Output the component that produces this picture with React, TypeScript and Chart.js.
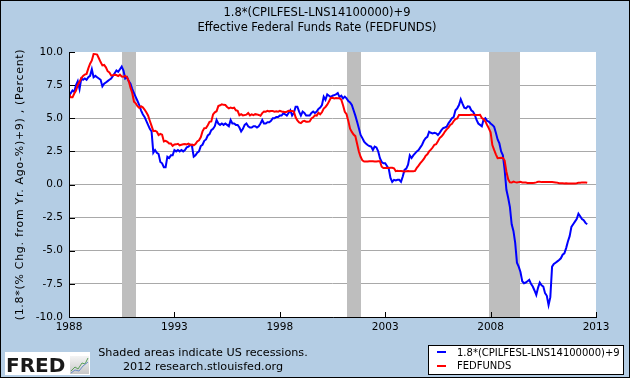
import React, { useEffect, useRef } from 'react';
import { Chart, registerables } from 'chart.js';

Chart.register(...registerables);

// ---- data (monthly, starting January 1988) ----
const START_YEAR = 1988;

const fedFunds = [
  6.83, 6.58, 6.58, 6.87, 7.09, 7.51, 7.75, 8.01, 8.19, 8.30, 8.35, 8.76,
  9.12, 9.36, 9.85, 9.84, 9.81, 9.53, 9.24, 8.99, 9.02, 8.84, 8.55, 8.45,
  8.23, 8.24, 8.28, 8.26, 8.18, 8.29, 8.15, 8.13, 8.20, 8.11, 7.81, 7.31,
  6.91, 6.25, 6.12, 5.91, 5.78, 5.90, 5.82, 5.66, 5.45, 5.21, 4.81, 4.43,
  4.03, 4.06, 3.98, 3.73, 3.82, 3.76, 3.25, 3.30, 3.22, 3.10, 3.09, 2.92,
  3.02, 3.03, 3.07, 2.96, 3.00, 3.04, 3.06, 3.03, 3.09, 2.99, 3.02, 2.96,
  3.05, 3.25, 3.34, 3.56, 4.01, 4.25, 4.26, 4.47, 4.73, 4.76, 5.29, 5.45,
  5.53, 5.92, 5.98, 6.05, 6.01, 6.00, 5.85, 5.74, 5.80, 5.76, 5.80, 5.60,
  5.56, 5.22, 5.31, 5.22, 5.24, 5.27, 5.40, 5.22, 5.30, 5.24, 5.31, 5.29,
  5.25, 5.19, 5.39, 5.51, 5.50, 5.56, 5.52, 5.54, 5.54, 5.50, 5.52, 5.50,
  5.56, 5.51, 5.49, 5.45, 5.49, 5.56, 5.54, 5.55, 5.51, 5.07, 4.83, 4.68,
  4.63, 4.76, 4.81, 4.74, 4.74, 4.76, 4.99, 5.07, 5.22, 5.20, 5.42, 5.30,
  5.45, 5.73, 5.85, 6.02, 6.27, 6.53, 6.54, 6.50, 6.52, 6.51, 6.51, 6.40,
  5.98, 5.49, 5.31, 4.80, 4.21, 3.97, 3.77, 3.65, 3.07, 2.49, 2.09, 1.82,
  1.73, 1.74, 1.73, 1.75, 1.75, 1.75, 1.73, 1.74, 1.75, 1.75, 1.34, 1.24,
  1.24, 1.26, 1.25, 1.26, 1.26, 1.22, 1.01, 1.03, 1.01, 1.01, 1.00, 0.98,
  1.00, 1.01, 1.00, 1.00, 1.00, 1.03, 1.26, 1.43, 1.61, 1.76, 1.93, 2.16,
  2.28, 2.50, 2.63, 2.79, 3.00, 3.04, 3.26, 3.50, 3.62, 3.78, 4.00, 4.16,
  4.29, 4.49, 4.59, 4.79, 4.94, 4.99, 5.24, 5.25, 5.25, 5.25, 5.25, 5.24,
  5.25, 5.26, 5.26, 5.25, 5.25, 5.25, 5.26, 5.02, 4.94, 4.76, 4.49, 4.24,
  3.94, 2.98, 2.61, 2.28, 1.98, 2.00, 2.01, 2.00, 1.81, 0.97, 0.39, 0.16,
  0.15, 0.22, 0.18, 0.15, 0.18, 0.21, 0.16, 0.16, 0.15, 0.12, 0.12, 0.12,
  0.11, 0.13, 0.16, 0.20, 0.20, 0.18, 0.18, 0.19, 0.19, 0.19, 0.19, 0.18,
  0.17, 0.16, 0.14, 0.10, 0.09, 0.09, 0.07, 0.10, 0.08, 0.07, 0.08, 0.07,
  0.08, 0.10, 0.13, 0.14, 0.16, 0.16, 0.16, 0.13,
];

const cpiGap = [
  6.7, 6.9, 7.1, 7.0, 7.5, 7.8, 7.2, 8.0, 7.9, 8.0, 7.9, 8.1,
  8.2, 8.7, 8.1, 8.2, 8.1, 8.0, 7.9, 7.4, 7.6, 7.7, 7.8, 7.9,
  8.0, 8.2, 8.4, 8.6, 8.5, 8.7, 8.9, 8.6, 8.0, 8.1, 7.8, 7.6,
  7.2, 6.9, 6.6, 6.3, 6.0, 5.6, 5.3, 5.1, 4.8, 4.5, 4.2, 4.0,
  2.4, 2.6, 2.4, 2.3, 1.7, 1.6, 1.3, 1.3, 2.1, 2.0, 2.2, 2.2,
  2.6, 2.5, 2.6, 2.5, 2.6, 2.5, 2.6, 2.8, 2.85, 3.0, 2.9, 2.1,
  2.2, 2.4, 2.5, 2.9, 3.0, 3.3, 3.4, 3.7, 3.8, 4.1, 4.2, 4.4,
  4.87, 4.6, 4.5, 4.6, 4.5, 4.6, 4.5, 4.4, 4.87, 4.6, 4.6, 4.5,
  4.5, 4.3, 4.0, 4.2, 4.5, 4.6, 4.4, 4.3, 4.3, 4.4, 4.4, 4.3,
  4.4, 4.6, 4.87, 4.6, 4.6, 4.7, 4.7, 4.8, 5.0, 5.0, 5.1, 5.1,
  5.2, 5.2, 5.37, 5.3, 5.2, 5.4, 5.6, 5.2, 5.4, 5.87, 5.87, 5.5,
  5.2, 5.5, 5.4, 5.2, 5.2, 5.2, 5.4, 5.5, 5.4, 5.5, 5.7, 5.8,
  6.0, 6.63, 6.4, 6.8, 6.7, 6.6, 6.7, 6.75, 6.8, 6.9, 6.6, 6.7,
  6.5, 6.63, 6.5, 6.3, 6.2, 6.0, 5.6, 5.2, 4.74, 4.25, 3.74, 3.5,
  3.24, 3.1, 2.98, 2.9, 2.86, 2.6, 2.86, 2.8, 2.5, 1.98, 1.7, 1.6,
  1.6, 1.4, 1.2, 0.5, 0.2, 0.35, 0.3, 0.35, 0.35, 0.2, 0.6, 1.1,
  1.2, 1.5, 2.2, 2.0, 2.2, 2.35, 2.5, 2.6, 2.8, 3.0, 3.3, 3.5,
  3.6, 3.98, 3.9, 3.86, 3.9, 3.86, 3.74, 3.9, 4.1, 4.25, 4.3, 4.36,
  4.62, 4.8, 5.0, 5.1, 5.6, 5.75, 6.0, 6.43, 6.1, 5.8, 5.75, 5.9,
  5.87, 5.6, 5.5, 5.25, 4.87, 4.6, 4.5, 4.4, 4.9, 5.0, 4.8, 4.74,
  4.6, 4.5, 4.36, 3.9, 3.4, 3.1, 2.5, 2.2, 1.1, -0.4, -1.0, -1.7,
  -3.0, -3.5, -4.4, -5.9, -6.2, -6.6, -7.3, -7.45, -7.4, -7.3, -7.2, -7.5,
  -7.7, -8.0, -8.34, -7.8, -7.4, -7.6, -7.7, -8.2, -8.4, -9.1, -8.5, -6.2,
  -6.0, -5.9, -5.8, -5.7, -5.57, -5.3, -5.2, -4.8, -4.3, -3.9, -3.2, -3.0,
  -2.8, -2.6, -2.2, -2.4, -2.6, -2.7, -2.9, -3.0,
];

const recessionStarts = ['1990-07', '2001-03', '2007-12'];
const recessionEnds = ['1991-03', '2001-11', '2009-06'];

const xMin = 1988;
const xMax = 2013;
const xStep = 5;
const yMin = -10;
const yMax = 10;
const yStep = 2.5;

const titleLines = ['1.8*(CPILFESL-LNS14100000)+9', 'Effective Federal Funds Rate (FEDFUNDS)'];
const yAxisTitle = '(1.8*(% Chg. from Yr. Ago-%)+9) , (Percent)';
const seriesNames = ['1.8*(CPILFESL-LNS14100000)+9', 'FEDFUNDS'];
const footerLines = ['Shaded areas indicate US recessions.', '2012 research.stlouisfed.org'];

// ---- styles ----
const BG = '#B4CDE4';
const BLUE = '#0000FF';
const RED = '#FF0000';
const FONT = 'DejaVu Sans';

const monthToYear = (s: string) => {
  const [y, m] = s.split('-').map(Number);
  return y + (m - 1) / 12;
};

const toPoints = (arr: number[]) => arr.map((v, i) => ({ x: START_YEAR + i / 12, y: v }));

const decorPlugin = {
  id: 'decor',
  beforeDraw(chart: any) {
    const { ctx, chartArea: a } = chart;
    ctx.save();
    ctx.fillStyle = BG;
    ctx.fillRect(0, 0, chart.width, chart.height);
    ctx.fillStyle = '#FFFFFF';
    ctx.fillRect(a.left, a.top, a.right - a.left, a.bottom - a.top);
    ctx.restore();
  },
  beforeDatasetsDraw(chart: any) {
    const { ctx, chartArea: a, scales } = chart;
    const xs = scales.x;
    ctx.save();
    ctx.fillStyle = '#BEBEBE';
    recessionStarts.forEach((s, i) => {
      const x0 = Math.round(xs.getPixelForValue(monthToYear(s)));
      const x1 = Math.round(xs.getPixelForValue(monthToYear(recessionEnds[i])));
      ctx.fillRect(x0, a.top, x1 - x0, a.bottom - a.top);
    });
    ctx.restore();
  },
  afterDraw(chart: any) {
    const { ctx, chartArea: a, scales } = chart;
    const xs = scales.x;
    const ys = scales.y;
    ctx.save();
    // axes
    ctx.strokeStyle = '#000';
    ctx.lineWidth = 1;
    ctx.beginPath();
    ctx.moveTo(a.left + 0.5, a.top);
    ctx.lineTo(a.left + 0.5, a.bottom + 0.5);
    ctx.lineTo(a.right + 1, a.bottom + 0.5);
    ctx.stroke();
    // inward ticks
    ctx.beginPath();
    ys.ticks.forEach((t: any) => {
      const y = Math.round(ys.getPixelForValue(t.value)) + 0.5;
      ctx.moveTo(a.left, y);
      ctx.lineTo(a.left + 6, y);
    });
    xs.ticks.forEach((t: any) => {
      const x = Math.round(xs.getPixelForValue(t.value)) + 0.5;
      ctx.moveTo(x, a.bottom);
      ctx.lineTo(x, a.bottom - 5);
    });
    ctx.stroke();

    // title
    ctx.fillStyle = '#000';
    ctx.textAlign = 'center';
    ctx.textBaseline = 'alphabetic';
    ctx.font = `11.5px "${FONT}"`;
    ctx.fillText(titleLines[0], 317, 16);
    ctx.fillText(titleLines[1], 317, 31);

    // y axis title
    ctx.save();
    ctx.translate(20, (a.top + a.bottom) / 2);
    ctx.rotate(-Math.PI / 2);
    ctx.textBaseline = 'middle';
    ctx.font = `11px "${FONT}"`;
    (ctx as any).letterSpacing = '0.7px';
    ctx.fillText(yAxisTitle, 0, 0);
    (ctx as any).letterSpacing = '0px';
    ctx.restore();

    // footer text
    ctx.font = `11.2px "${FONT}"`;
    ctx.fillText(footerLines[0], 203, 356);
    ctx.fillText(footerLines[1], 203, 370);

    // FRED logo
    ctx.fillStyle = '#FFFFFF';
    ctx.fillRect(5, 352, 85, 23);
    ctx.fillStyle = '#1A1A1A';
    ctx.textAlign = 'left';
    ctx.font = `bold 20px "${FONT}"`;
    ctx.fillText('FRED', 6, 372);
    // small chart icon
    const g = ctx.createLinearGradient(0, 356, 0, 374);
    g.addColorStop(0, '#F4F4F4');
    g.addColorStop(1, '#C8C8C8');
    ctx.fillStyle = g;
    ctx.fillRect(70, 356, 19, 18);
    ctx.lineWidth = 1;
    ctx.strokeStyle = '#5AA05A';
    ctx.beginPath();
    ctx.moveTo(71, 371); ctx.lineTo(75, 367); ctx.lineTo(78, 369); ctx.lineTo(82, 363); ctx.lineTo(85, 364); ctx.lineTo(88, 358);
    ctx.stroke();
    ctx.strokeStyle = '#6A8CC8';
    ctx.beginPath();
    ctx.moveTo(71, 373); ctx.lineTo(75, 370); ctx.lineTo(79, 371); ctx.lineTo(83, 366); ctx.lineTo(88, 362);
    ctx.stroke();

    // legend
    ctx.fillStyle = '#FFFFFF';
    ctx.fillRect(428, 345, 196, 30);
    ctx.strokeStyle = '#000';
    ctx.lineWidth = 1;
    ctx.strokeRect(428.5, 345.5, 195, 29);
    ctx.lineWidth = 2;
    ctx.strokeStyle = BLUE;
    ctx.beginPath(); ctx.moveTo(437, 352); ctx.lineTo(446, 352); ctx.stroke();
    ctx.strokeStyle = RED;
    ctx.beginPath(); ctx.moveTo(437, 366); ctx.lineTo(446, 366); ctx.stroke();
    ctx.fillStyle = '#000';
    ctx.font = `10px "${FONT}"`;
    ctx.textAlign = 'left';
    ctx.fillText(seriesNames[0], 457, 356);
    ctx.fillText(seriesNames[1], 457, 369);

    // outer border
    ctx.strokeStyle = '#000';
    ctx.lineWidth = 1;
    ctx.strokeRect(0.5, 0.5, chart.width - 1, chart.height - 1);
    ctx.restore();
  },
};

export default function App() {
  const canvasRef = useRef<HTMLCanvasElement | null>(null);

  useEffect(() => {
    document.body.style.margin = '0';
    const canvas = canvasRef.current;
    if (!canvas) return;
    const chart = new Chart(canvas, {
      type: 'line',
      data: {
        datasets: [
          {
            label: seriesNames[1],
            data: toPoints(fedFunds),
            borderColor: RED,
            borderWidth: 2,
            pointRadius: 0,
            tension: 0,
            fill: false,
          },
          {
            label: seriesNames[0],
            data: toPoints(cpiGap),
            borderColor: BLUE,
            borderWidth: 2,
            pointRadius: 0,
            tension: 0,
            fill: false,
          },
        ],
      },
      options: {
        responsive: false,
        animation: false,
        devicePixelRatio: 1,
        layout: { padding: { left: 0, top: 52, right: 34, bottom: 0 } },
        plugins: {
          legend: { display: false },
          title: { display: false },
          tooltip: { enabled: false },
        },
        scales: {
          x: {
            type: 'linear',
            min: xMin,
            max: xMax,
            afterFit: (s: any) => { s.height = 61; },
            afterBuildTicks: (s: any) => {
              const t = [];
              for (let v = xMin; v <= xMax; v += xStep) t.push({ value: v });
              s.ticks = t;
            },
            grid: { display: false, drawTicks: false },
            border: { display: false },
            ticks: {
              padding: 4,
              color: '#000',
              font: { family: FONT, size: 10.5 },
              maxRotation: 0,
              autoSkip: false,
              callback: (v: any) => String(v),
            },
          },
          y: {
            type: 'linear',
            min: yMin,
            max: yMax,
            afterFit: (s: any) => { s.width = 69; },
            afterBuildTicks: (s: any) => {
              const t = [];
              for (let v = yMin; v <= yMax + 1e-9; v += yStep) t.push({ value: v });
              s.ticks = t;
            },
            grid: {
              drawTicks: false,
              color: (c: any) => (c.tick && (c.tick.value === yMax || c.tick.value === yMin) ? 'rgba(0,0,0,0)' : '#A9A9A9'),
              lineWidth: 1,
            },
            border: { display: false },
            ticks: {
              padding: 6,
              color: '#000',
              font: { family: FONT, size: 10.5 },
              autoSkip: false,
              callback: (v: any) => Number(v).toFixed(1),
            },
          },
        },
      },
      plugins: [decorPlugin],
    });
    return () => chart.destroy();
  }, []);

  return (
    <div style={{ position: 'fixed', left: 0, top: 0, width: 630, height: 378 }}>
      <canvas ref={canvasRef} width={630} height={378} style={{ width: 630, height: 378, display: 'block' }} />
    </div>
  );
}
